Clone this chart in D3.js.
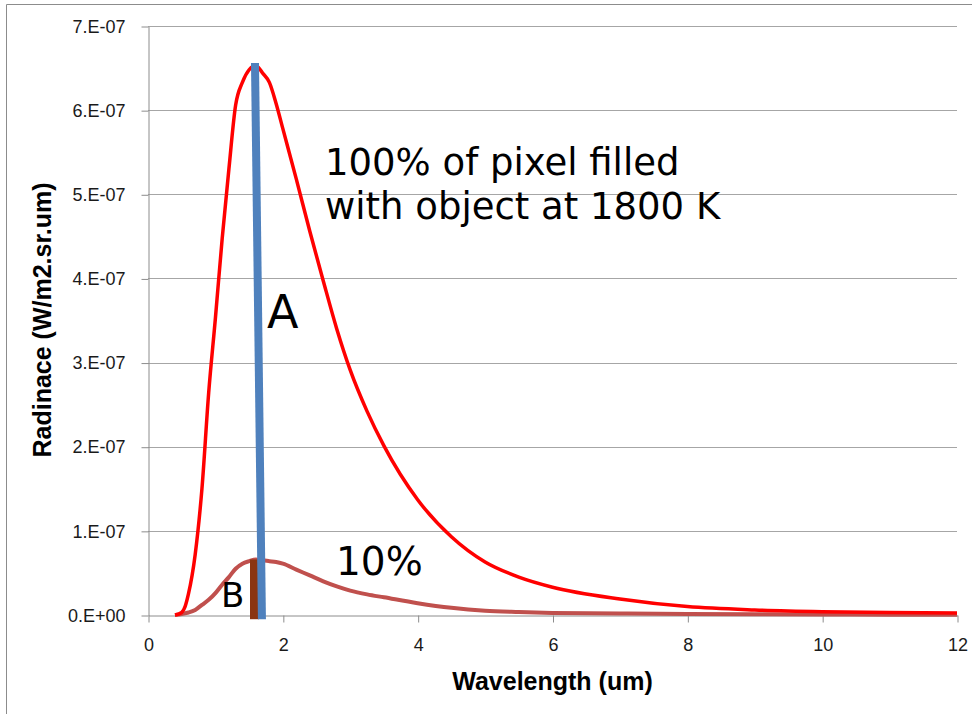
<!DOCTYPE html>
<meta charset="utf-8">
<script src="https://d3js.org/d3.v7.min.js"></script>
<style type="text/css">
body { margin: 0; background: #fff; }
.grid line { stroke: #a6a6a6; stroke-width: 1px; }
.axis path { stroke: #8c8c8c; }
.axis line { stroke: #8c8c8c; }
.axis text { font-family: "Liberation Sans", Arial, sans-serif; font-size: 18px; fill: #1a1a1a; }
.title { font-family: "Liberation Sans", Arial, sans-serif; font-weight: bold; font-size: 25px; fill: #000; }
.note { font-family: "DejaVu Sans", Verdana, sans-serif; fill: #000; }
</style>
<body>
<script>

// wavelength (um) sampled along the curves
var wavelength = [0.4, 0.5, 0.55, 0.6, 0.7, 0.8, 0.9, 1.0, 1.1, 1.2, 1.3, 1.4, 1.5, 1.6, 1.7, 1.8, 1.9, 2.0,
                  2.2, 2.4, 2.6, 2.8, 3.0, 3.25, 3.5, 4, 4.5, 5, 5.5, 6, 7, 8, 9, 10, 11, 12];

// radiance in units of 1e-7 W/m2.sr.um
var full = [0, 0.03, 0.1, 0.25, 0.72, 1.5, 2.64, 3.53, 4.47, 5.30, 6.06, 6.33, 6.48, 6.53, 6.44, 6.33, 6.08, 5.78,
            5.18, 4.56, 3.97, 3.40, 2.91, 2.42, 2.01, 1.37, 0.93, 0.63, 0.45, 0.33, 0.19, 0.10, 0.06, 0.04, 0.03, 0.025];

var tenPct = [0, 0.01, 0.02, 0.03, 0.06, 0.12, 0.18, 0.26, 0.36, 0.45, 0.55, 0.61, 0.64, 0.66, 0.65, 0.64, 0.63, 0.61,
              0.54, 0.47, 0.40, 0.34, 0.29, 0.245, 0.21, 0.14, 0.085, 0.05, 0.035, 0.025, 0.018, 0.012, 0.008, 0.006, 0.004, 0.003];

var xTicks = [0, 2, 4, 6, 8, 10, 12];
var yTicks = [0, 1e-7, 2e-7, 3e-7, 4e-7, 5e-7, 6e-7, 7e-7];
var yTickLabels = ["0.E+00", "1.E-07", "2.E-07", "3.E-07", "4.E-07", "5.E-07", "6.E-07", "7.E-07"];

// annotation marks: [wavelength, radiance]
var lineA = [[1.587, 6.56e-7], [1.69, -0.05e-7]];
var barB = [[1.58, 0.66e-7], [1.58, -0.05e-7]];

var width = 972, height = 714;
var plot = {left: 148, right: 957, top: 26, bottom: 615};

var svg = d3.select("body").append("svg")
    .attr("width", width)
    .attr("height", height);

// outer frame
svg.append("path")
    .attr("d", "M6.5," + height + "V4.5H" + width)
    .attr("fill", "none")
    .attr("stroke", "#8c8c8c");

var xScale = d3.scaleLinear().domain([0, 12]).range([plot.left, plot.right]);
var yScale = d3.scaleLinear().domain([0, 7e-7]).range([plot.bottom, plot.top]);

// horizontal gridlines
svg.append("g")
    .attr("class", "grid")
  .selectAll("line")
  .data(yTicks.slice(1))
  .enter().append("line")
    .attr("x1", plot.left)
    .attr("x2", plot.right)
    .attr("y1", function(d) { return Math.round(yScale(d)) + 0.5; })
    .attr("y2", function(d) { return Math.round(yScale(d)) + 0.5; });

var yAxis = d3.axisLeft(yScale)
    .tickValues(yTicks)
    .tickSizeInner(7)
    .tickSizeOuter(0)
    .tickPadding(16)
    .tickFormat(function(d, i) { return yTickLabels[i]; });

svg.append("g")
    .attr("class", "y axis")
    .attr("transform", "translate(" + (plot.left + 0.5) + ",0.5)")
    .call(yAxis);

var xAxis = d3.axisBottom(xScale)
    .tickValues(xTicks)
    .tickSizeInner(7)
    .tickSizeOuter(0)
    .tickPadding(16);

svg.append("g")
    .attr("class", "x axis")
    .attr("transform", "translate(0.5," + (plot.bottom + 0.5) + ")")
    .call(xAxis);

// axis titles
svg.append("text")
    .attr("class", "title")
    .attr("x", (plot.left + plot.right) / 2)
    .attr("y", 690)
    .attr("text-anchor", "middle")
    .text("Wavelength (um)");

svg.append("text")
    .attr("class", "title")
    .attr("transform", "translate(51,320) rotate(-90)")
    .attr("text-anchor", "middle")
    .text("Radinace (W/m2.sr.um)");

// curves
var line = d3.line()
    .x(function(d) { return xScale(d[0]); })
    .y(function(d) { return yScale(d[1] * 1e-7); })
    .curve(d3.curveMonotoneX);

svg.append("path")
    .datum(wavelength.map(function(w, i) { return [w, tenPct[i]]; }))
    .attr("d", line)
    .attr("fill", "none")
    .attr("stroke", "#c0504d")
    .attr("stroke-width", 4);

svg.append("path")
    .datum(wavelength.map(function(w, i) { return [w, full[i]]; }))
    .attr("d", line)
    .attr("fill", "none")
    .attr("stroke", "#ff0000")
    .attr("stroke-width", 3.5);

// B bar and A line
var seg = d3.line()
    .x(function(d) { return xScale(d[0]); })
    .y(function(d) { return yScale(d[1]); });

svg.append("path")
    .attr("d", seg(barB))
    .attr("stroke", "#8a3512")
    .attr("stroke-width", 9);

svg.append("path")
    .attr("d", seg(lineA))
    .attr("stroke", "#4f81bd")
    .attr("stroke-width", 8);

// notes
svg.append("text")
    .attr("class", "note")
    .attr("x", 325)
    .attr("y", 175)
    .style("font-size", "37px")
    .text("100% of pixel filled");

svg.append("text")
    .attr("class", "note")
    .attr("x", 325)
    .attr("y", 219)
    .style("font-size", "37px")
    .text("with object at 1800 K");

svg.append("text")
    .attr("class", "note")
    .attr("x", 267)
    .attr("y", 328)
    .style("font-size", "46px")
    .text("A");

svg.append("text")
    .attr("class", "note")
    .attr("x", 221)
    .attr("y", 607)
    .style("font-size", "34px")
    .text("B");

svg.append("text")
    .attr("class", "note")
    .attr("x", 336)
    .attr("y", 575)
    .style("font-size", "39px")
    .text("10%");

</script>
</body>
